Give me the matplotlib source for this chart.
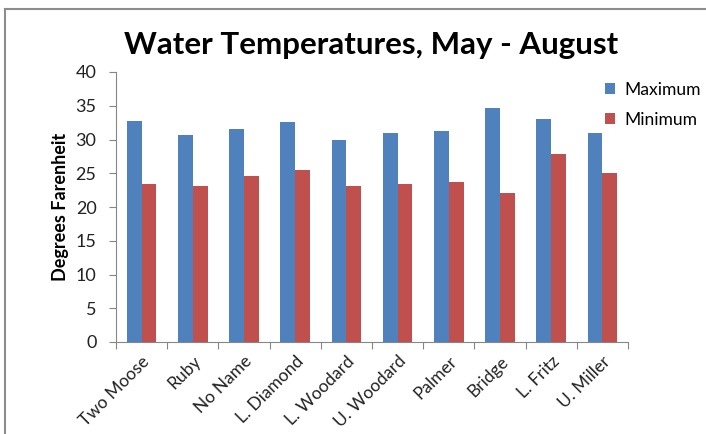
import numpy as np
import matplotlib
matplotlib.use("Agg")
import matplotlib.pyplot as plt
from matplotlib.lines import Line2D

# Data
sites = ['Two Moose', 'Ruby', 'No Name', 'L. Diamond', 'L. Woodard',
         'U. Woodard', 'Palmer', 'Bridge', 'L. Fritz', 'U. Miller']
maximum = [32.8, 30.6, 31.6, 32.6, 29.9, 31.0, 31.2, 34.6, 33.1, 31.0]
minimum = [23.4, 23.1, 24.6, 25.5, 23.1, 23.4, 23.7, 22.1, 27.8, 25.0]
yticks = [0, 5, 10, 15, 20, 25, 30, 35, 40]

plt.rcParams['font.family'] = ['Lato', 'DejaVu Sans']

fig = plt.figure(figsize=(7.06, 4.34), dpi=100)
ax = fig.add_axes([116 / 706, (434 - 342) / 434, (628 - 116) / 706, (342 - 72) / 434])

x = np.arange(len(sites))
w = 0.29
ax.bar(x - w / 2, maximum, w, color='#4F81BD', label='Maximum')
ax.bar(x + w / 2, minimum, w, color='#C0504D', label='Minimum')

ax.set_xlim(-0.5, len(sites) - 0.5)
ax.set_ylim(0, 40)
ax.set_yticks(yticks)
ax.tick_params(axis='y', labelsize=13, length=5, color='#868686', pad=9,
               labelcolor='#222222')

# category boundary ticks on x
ax.set_xticks(np.arange(len(sites) + 1) - 0.5, minor=False)
ax.set_xticklabels([])
ax.tick_params(axis='x', length=5, color='#868686')
ax.set_xticks(x, minor=True)
ax.set_xticklabels(sites, minor=True, rotation=45, ha='right', rotation_mode='anchor',
                   fontsize=12.5, color='#222222')
ax.tick_params(axis='x', which='minor', length=0, pad=8)

for s in ['top', 'right']:
    ax.spines[s].set_visible(False)
for s in ['left', 'bottom']:
    ax.spines[s].set_color('#868686')

ax.set_ylabel('Degrees Farenheit', fontsize=13, fontweight='bold', labelpad=5)
fig.text(371 / 706, 1 - 45 / 434, 'Water Temperatures, May - August',
         fontsize=22.5, fontweight='bold', ha='center', va='center')

ax.legend(loc='upper left', bbox_to_anchor=(0.955, 0.963), frameon=False,
          fontsize=12.6, handlelength=0.6, handleheight=0.6, handletextpad=0.5,
          labelspacing=0.8, borderpad=0, borderaxespad=0)

# chart frame (only top and left edges fall inside the picture)
fig.add_artist(Line2D([4.5 / 706, 4.5 / 706], [0, 1 - 9 / 434], transform=fig.transFigure,
                      color='#8C8C8C', linewidth=1.5))
fig.add_artist(Line2D([4.5 / 706, 1], [1 - 9 / 434, 1 - 9 / 434], transform=fig.transFigure,
                      color='#8C8C8C', linewidth=1.5))

fig.savefig('out.png', dpi=100)
